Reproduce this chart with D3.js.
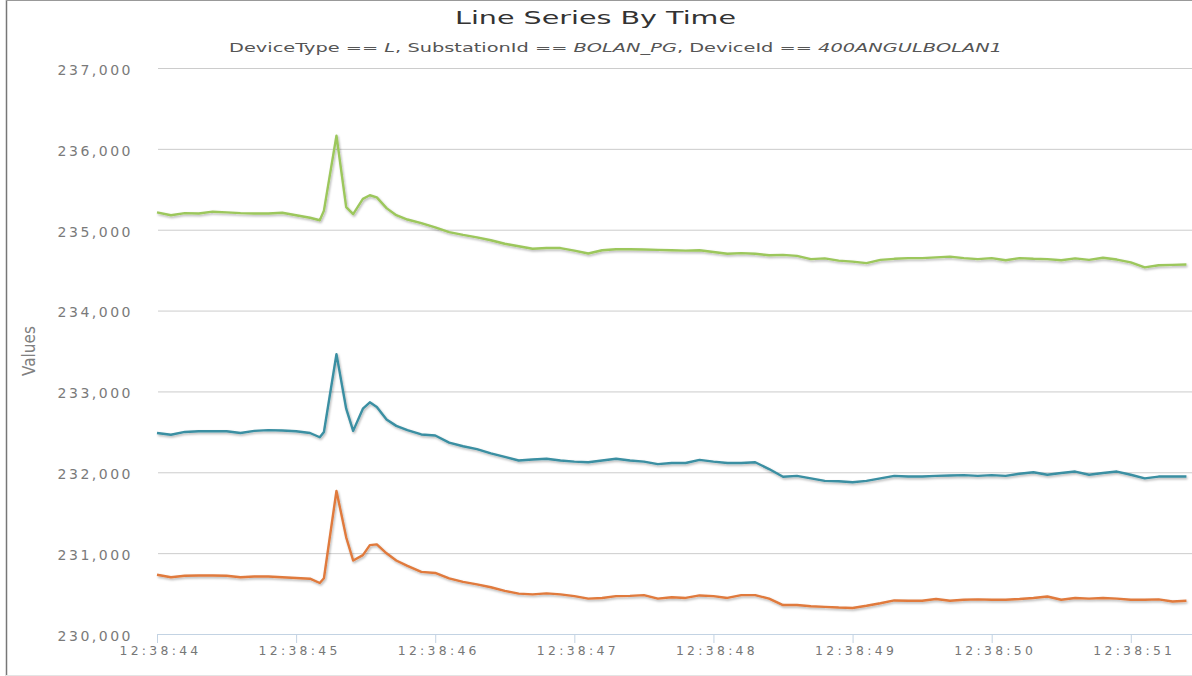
<!DOCTYPE html>
<html>
<head>
<meta charset="utf-8">
<script src="https://cdn.jsdelivr.net/npm/d3@7"></script>
<style>
  body { margin: 0; background: #fff; }
  svg { display: block; }
  text { font-family: "DejaVu Sans", Verdana, sans-serif; }
</style>
</head>
<body>
<svg id="chart" width="1192" height="676"></svg>
<script>
// seconds after 12:38:44
const seconds = [
  0, 0.1, 0.2, 0.3, 0.4, 0.5, 0.6, 0.7, 0.8, 0.9, 1.0, 1.1,
  1.17, 1.2, 1.29, 1.36, 1.41, 1.48, 1.53, 1.58, 1.65, 1.72,
  1.8, 1.9, 2.0, 2.1, 2.2, 2.3, 2.4, 2.5, 2.6, 2.7, 2.8, 2.9,
  3.0, 3.1, 3.2, 3.3, 3.4, 3.5, 3.6, 3.7, 3.8, 3.9,
  4.0, 4.1, 4.2, 4.3, 4.4, 4.5, 4.6, 4.7, 4.8, 4.9,
  5.0, 5.1, 5.2, 5.3, 5.4, 5.5, 5.6, 5.7, 5.8, 5.9,
  6.0, 6.1, 6.2, 6.3, 6.4, 6.5, 6.6, 6.7, 6.8, 6.9,
  7.0, 7.1, 7.2, 7.3, 7.4
];

const greenValues = [
  235214, 235179, 235205, 235201, 235223, 235214, 235205, 235201, 235201, 235210, 235179, 235148,
  235117, 235236, 236163, 235280, 235192, 235382, 235426, 235400, 235267, 235179,
  235126, 235082, 235029, 234971, 234936, 234905, 234870, 234826, 234795, 234764, 234773, 234773,
  234742, 234706, 234746, 234759, 234759, 234755, 234751, 234746, 234742, 234746,
  234724, 234702, 234711, 234702, 234684, 234689, 234676, 234636, 234645, 234618,
  234605, 234587, 234627, 234640, 234649, 234649, 234658, 234667, 234649, 234636,
  234649, 234622, 234649, 234640, 234636, 234622, 234645, 234627, 234653, 234631,
  234596, 234534, 234561, 234565, 234570
];

const tealValues = [
  232486, 232464, 232499, 232508, 232508, 232508, 232486, 232512, 232521, 232517, 232508, 232486,
  232433, 232499, 233461, 232786, 232512, 232786, 232865, 232808, 232653, 232574,
  232521, 232468, 232455, 232367, 232322, 232287, 232234, 232190, 232146, 232159, 232168, 232146,
  232132, 232124, 232146, 232168, 232146, 232132, 232101, 232115, 232115, 232154,
  232132, 232115, 232115, 232124, 232040, 231945, 231956, 231925, 231894, 231890,
  231876, 231894, 231925, 231956, 231947, 231947, 231956, 231960, 231965, 231956,
  231965, 231956, 231982, 232000, 231969, 231991, 232009, 231969, 231991, 232009,
  231969, 231925, 231947, 231947, 231947
];

const orangeValues = [
  230733, 230702, 230720, 230724, 230724, 230720, 230702, 230711, 230711, 230702, 230693, 230684,
  230631, 230689, 231770, 231196, 230909, 230976, 231099, 231108, 230998, 230909,
  230843, 230768, 230755, 230689, 230645, 230614, 230578, 230534, 230499, 230490, 230503, 230490,
  230468, 230437, 230446, 230468, 230472, 230481, 230437, 230455, 230446, 230477,
  230468, 230446, 230481, 230481, 230437, 230358, 230358, 230344, 230336, 230327,
  230322, 230349, 230380, 230415, 230411, 230411, 230433, 230411, 230424, 230428,
  230424, 230424, 230433, 230446, 230464, 230424, 230446, 230437, 230446, 230437,
  230424, 230424, 230428, 230402, 230411
];

const yTickValues = [230000, 231000, 232000, 233000, 234000, 235000, 236000, 237000];

const series = [
  { name: "green", color: "#9cc75c", values: greenValues },
  { name: "teal", color: "#3a8fa2", values: tealValues },
  { name: "orange", color: "#e07a3c", values: orangeValues }
];

const width = 1192;
const height = 676;
const plotLeft = 158;
const plotTop = 68;
const plotBottom = 634;
const baseTime = new Date(2017, 0, 1, 12, 38, 44);

const svg = d3.select("#chart");

const x = d3
  .scaleTime()
  .domain([baseTime, new Date(baseTime.getTime() + 7440)])
  .range([157, width]);

const y = d3
  .scaleLinear()
  .domain([230000, 237000])
  .range([plotBottom, plotTop]);

// drop shadow for the lines
const defs = svg.append("defs");
defs
  .append("filter")
  .attr("id", "shadow")
  .attr("x", "-5%")
  .attr("y", "-5%")
  .attr("width", "110%")
  .attr("height", "120%")
  .append("feDropShadow")
  .attr("dx", 1)
  .attr("dy", 1.5)
  .attr("stdDeviation", 1)
  .attr("flood-color", "#000")
  .attr("flood-opacity", 0.3);

// frame
svg.append("line")
  .attr("x1", 6.5).attr("x2", 6.5).attr("y1", 0).attr("y2", height)
  .attr("stroke", "#777").attr("stroke-width", 1.5);
svg.append("line")
  .attr("x1", 6).attr("x2", width).attr("y1", 0.5).attr("y2", 0.5)
  .attr("stroke", "#999");
svg.append("line")
  .attr("x1", 6).attr("x2", width).attr("y1", 675.5).attr("y2", 675.5)
  .attr("stroke", "#e4e4e4");

// y axis + gridlines
const yAxis = svg
  .append("g")
  .attr("transform", "translate(" + plotLeft + ",0)")
  .call(
    d3.axisLeft(y)
      .tickValues(yTickValues)
      .tickFormat(d3.format(","))
      .tickSize(-(width - plotLeft))
      .tickPadding(25)
  );
yAxis.select(".domain").remove();
yAxis.selectAll(".tick line").attr("stroke", "#cccccc");
yAxis
  .selectAll(".tick text")
  .attr("fill", "#7a7a7a")
  .attr("dy", "0.45em")
  .style("font-size", "14px")
  .style("letter-spacing", "2.5px");

// x axis
const xAxis = svg
  .append("g")
  .attr("transform", "translate(0," + plotBottom + ")")
  .call(
    d3.axisBottom(x)
      .ticks(d3.timeSecond.every(1))
      .tickFormat(d3.timeFormat("%H:%M:%S"))
      .tickSize(9)
      .tickSizeOuter(0)
      .tickPadding(3)
  );
xAxis.select(".domain").attr("stroke", "#c3d3e3");
xAxis.selectAll(".tick line").attr("stroke", "#c3d3e3");
xAxis
  .selectAll(".tick text")
  .attr("fill", "#777")
  .attr("dx", 3)
  .style("font-size", "12.4px")
  .style("letter-spacing", "3.3px");

// lines
const line = d3
  .line()
  .x((d, i) => x(new Date(baseTime.getTime() + seconds[i] * 1000)))
  .y((d) => y(d));

svg
  .append("g")
  .selectAll("path")
  .data(series)
  .enter()
  .append("path")
  .attr("d", (s) => line(s.values))
  .attr("fill", "none")
  .attr("stroke", (s) => s.color)
  .attr("stroke-width", 2.4)
  .attr("stroke-linejoin", "round")
  .attr("filter", "url(#shadow)");

// titles
svg
  .append("text")
  .attr("x", 455)
  .attr("y", 24)
  .attr("textLength", 281)
  .attr("lengthAdjust", "spacingAndGlyphs")
  .attr("fill", "#333")
  .style("font-size", "18px")
  .text("Line Series By Time");

const sub = svg
  .append("text")
  .attr("x", 229)
  .attr("y", 52)
  .attr("textLength", 773)
  .attr("lengthAdjust", "spacingAndGlyphs")
  .attr("fill", "#555")
  .style("font-size", "12px");
const subParts = [
  ["DeviceType == ", false],
  ["L", true],
  [", SubstationId == ", false],
  ["BOLAN_PG", true],
  [", DeviceId == ", false],
  ["400ANGULBOLAN1", true]
];
subParts.forEach(([t, it]) => {
  sub.append("tspan").style("font-style", it ? "italic" : "normal").text(t);
});

// y axis title
svg
  .append("text")
  .attr("transform", "translate(35,351) rotate(-90)")
  .attr("text-anchor", "middle")
  .attr("fill", "#808080")
  .style("font-family", '"Liberation Sans Narrow", "DejaVu Sans Condensed", sans-serif')
  .style("font-stretch", "condensed")
  .style("font-size", "17px")
  .text("Values");
</script>
</body>
</html>
